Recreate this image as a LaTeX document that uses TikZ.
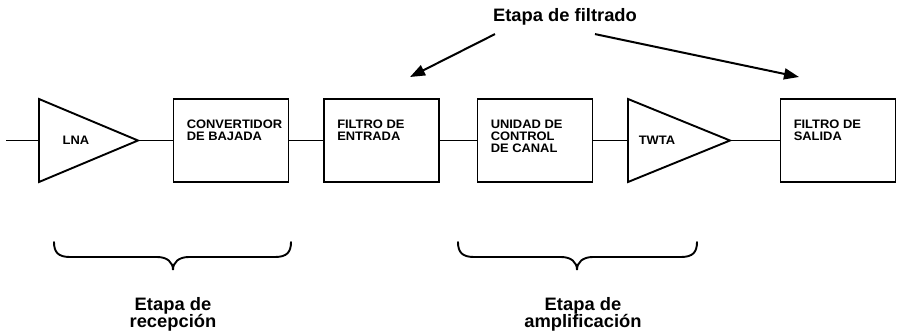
\documentclass[tikz,border=0pt]{standalone}
\usepackage{fontspec}
\setmainfont{Liberation Sans}
\newfontfamily\blkfont[FakeStretch=1.05]{Liberation Sans}
\newfontfamily\lblfont[FakeStretch=1.02]{Liberation Sans}
\usetikzlibrary{arrows.meta}

\begin{document}
\begin{tikzpicture}[x=1pt,y=-1pt,
  blk/.style={rectangle,draw,line width=1.9pt,minimum width=115pt,minimum height=83pt,inner sep=0pt},
  blktxt/.style={anchor=north west,align=left,inner sep=0pt,font=\blkfont\bfseries\fontsize{12.3}{12}\selectfont},
  lbl/.style={align=center,inner sep=0pt,font=\lblfont\bfseries\fontsize{18}{17}\selectfont},
  wire/.style={line width=1.9pt},
  ptr/.style={line width=2pt,-{Triangle[length=15pt,width=11pt]}},
  brace/.style={line width=1.9pt,line cap=round}]
\useasboundingbox (0,0) rectangle (899,332);

% amplifiers
\coordinate (lnain) at (39,140.5);
\coordinate (lnaout) at (138,140.5);
\coordinate (twtain) at (628,140.5);
\coordinate (twtaout) at (730,140.5);
\coordinate (in) at (6,140.5);
\draw [wire,line join=miter] (39,99) -- (lnaout) -- (39,182) -- cycle;
\draw [wire,line join=miter] (628,99) -- (twtaout) -- (628,182) -- cycle;
\node (lna) [blktxt,anchor=center] at (76,140.5) {LNA};
\node (twta) [blktxt,anchor=center] at (657,140.5) {TWTA};

% blocks
\node (conv) [blk] at (231,140.5) {};
\node (fent) [blk] at (381.5,140.5) {};
\node (ucc) [blk] at (535,140.5) {};
\node (fsal) [blk] at (838,140.5) {};
\node (convtxt) [blktxt] at ([shift={(14,22)}]conv.north west) {CONVERTIDOR\\DE BAJADA};
\node (fenttxt) [blktxt] at ([shift={(14,22)}]fent.north west) {FILTRO DE\\ENTRADA};
\node (ucctxt) [blktxt] at ([shift={(14,22)}]ucc.north west) {UNIDAD DE\\CONTROL\\DE CANAL};
\node (fsaltxt) [blktxt] at ([shift={(14,22)}]fsal.north west) {FILTRO DE\\SALIDA};

\draw [wire] (in)--(lnain);
\draw [wire] (lnaout)--(conv);
\draw [wire] (conv)--(fent);
\draw [wire] (fent)--(ucc);
\draw [wire] (ucc)--(twtain);
\draw [wire] (twtaout)--(fsal);

% filtering stage
\node (filt) [lbl] at (565,16.5) {Etapa de filtrado};
\coordinate (arrl) at (410,77);
\coordinate (arrr) at (799,77);
\draw [ptr] ([shift={(-70,9)}]filt.south)--(arrl);
\draw [ptr] ([shift={(30,9)}]filt.south)--(arrr);

% braces
\foreach \l/\m/\r in {54/173/291,458/577/697}
  \draw [brace] (\l,242) .. controls (\l,252) and (\l+4,257) .. (\l+16,257)
    -- (\m-16,257) .. controls (\m-6,257) and (\m,262) .. (\m,270)
    .. controls (\m,262) and (\m+6,257) .. (\m+16,257)
    -- (\r-16,257) .. controls (\r-4,257) and (\r,252) .. (\r,242);

\node (rec) [lbl,anchor=north] at (173,297) {Etapa de\\recepción};
\node (amp) [lbl,anchor=north] at (583,297) {Etapa de\\amplificación};
\end{tikzpicture}
\end{document}
